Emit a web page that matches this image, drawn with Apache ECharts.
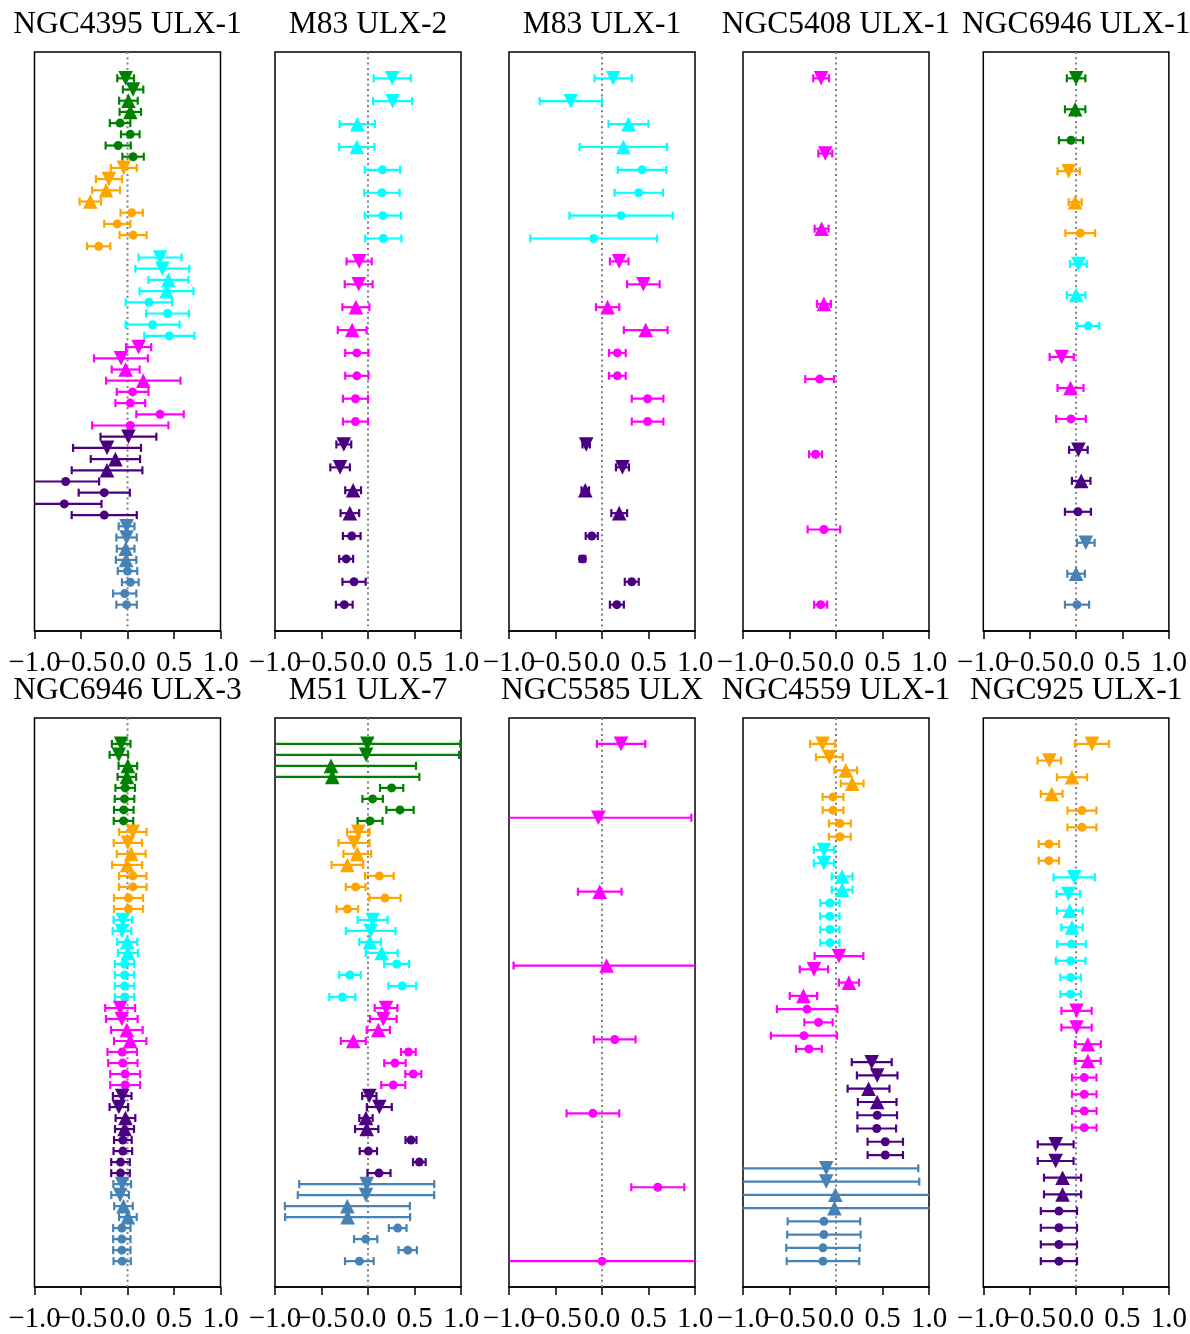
<!DOCTYPE html>
<html>
<head>
<meta charset="utf-8">
<script src="https://cdn.jsdelivr.net/npm/echarts@6/dist/echarts.min.js"></script>
<style>
html,body{margin:0;padding:0;background:#fff;}
#chart{width:1190px;height:1334px;}
</style>
</head>
<body>
<div id="chart"></div>
<script>
// ---------------- DATA ----------------
const panelTitles = ['NGC4395 ULX-1','M83 ULX-2','M83 ULX-1','NGC5408 ULX-1','NGC6946 ULX-1',
                     'NGC6946 ULX-3','M51 ULX-7','NGC5585 ULX','NGC4559 ULX-1','NGC925 ULX-1'];
const xTicks = [-1.0, -0.5, 0.0, 0.5, 1.0];
// marker sequence inside each colour group: v = triangle down, ^ = triangle up, o = circle
const pattern8 = ['v','v','^','^','o','o','o','o'];
const pattern3 = ['v','^','o'];
const p1Groups = ['green','orange','cyan','magenta','indigo','steelblue'];
const p2Groups = ['cyan','magenta','indigo'];
const p3Groups = ['cyan','magenta','indigo'];
const p4Groups = ['magenta'];
const p5Groups = ['green','orange','cyan','magenta','indigo','steelblue'];
const p6Groups = ['green','orange','cyan','magenta','indigo','steelblue'];
const p7Groups = ['green','orange','cyan','magenta','indigo','steelblue'];
const p8Groups = ['magenta'];
const p9Groups = ['orange','cyan','magenta','indigo','steelblue'];
const p10Groups = ['orange','cyan','magenta','indigo'];

const p1X = [-0.02,0.06,0.01,0.03,-0.08,0.03,-0.10,0.06,
             -0.04,-0.20,-0.23,-0.40,0.045,-0.11,0.06,-0.31,
             0.35,0.375,0.44,0.42,0.23,0.43,0.27,0.45,
             0.12,-0.07,-0.02,0.17,0.055,0.03,0.35,0.03,
             0.01,-0.22,-0.13,-0.22,-0.665,-0.25,-0.68,-0.25,
             -0.01,-0.01,-0.02,-0.015,0.0,0.03,-0.03,-0.01];
const p1Err = [0.09,0.11,0.10,0.115,0.11,0.10,0.135,0.115,
               0.14,0.14,0.15,0.115,0.12,0.14,0.145,0.125,
               0.23,0.29,0.215,0.29,0.25,0.23,0.29,0.27,
               0.135,0.29,0.15,0.40,0.17,0.16,0.255,0.41,
               0.30,0.365,0.265,0.38,0.36,0.275,0.40,0.35,
               0.085,0.11,0.095,0.11,0.105,0.09,0.125,0.11];

const p2X = [0.26,0.265,-0.115,-0.12,0.155,0.15,0.16,0.165,
             -0.095,-0.10,-0.13,-0.17,-0.12,-0.12,-0.135,-0.135,
             -0.26,-0.30,-0.16,-0.195,-0.175,-0.235,-0.15,-0.255];
const p2Err = [0.20,0.21,0.19,0.19,0.19,0.19,0.195,0.195,
               0.135,0.15,0.145,0.155,0.125,0.125,0.135,0.135,
               0.08,0.105,0.085,0.10,0.095,0.075,0.125,0.09];

const p3X = [0.12,-0.335,0.285,0.23,0.43,0.395,0.205,-0.09,
             0.185,0.445,0.06,0.47,0.165,0.165,0.49,0.49,
             -0.17,0.22,-0.18,0.185,-0.11,-0.21,0.32,0.16];
const p3Err = [0.20,0.335,0.215,0.47,0.26,0.26,0.555,0.68,
               0.10,0.175,0.125,0.235,0.09,0.09,0.17,0.17,
               0.04,0.07,0.04,0.085,0.065,0.03,0.075,0.075];

const p4X = [-0.16,-0.115,-0.155,-0.13,-0.175,-0.22,-0.13,-0.165];
const p4Err = [0.085,0.075,0.075,0.075,0.155,0.07,0.175,0.07];

const p5X = [0.0,-0.01,-0.055, -0.08,-0.01,0.045, 0.025,0.0,0.13,
             -0.155,-0.06,-0.055, 0.025,0.055,0.02, 0.105,0.0,0.01];
const p5Err = [0.10,0.11,0.13, 0.12,0.07,0.16, 0.09,0.10,0.12,
               0.13,0.14,0.16, 0.10,0.10,0.14, 0.095,0.095,0.13];

const p6X = [-0.068,-0.093,0.004,-0.007,-0.025,-0.032,-0.04,-0.043,
             0.057,0.004,0.04,-0.004,0.057,0.057,0.011,0.011,
             -0.05,-0.06,-0.004,0.004,-0.032,-0.032,-0.032,-0.032,
             -0.079,-0.061,-0.007,0.029,-0.057,-0.05,-0.025,-0.025,
             -0.057,-0.093,-0.022,-0.032,-0.05,-0.05,-0.075,-0.075,
             -0.057,-0.079,-0.043,0.004,-0.061,-0.061,-0.061,-0.057];
const p6Err = [0.10,0.10,0.10,0.10,0.105,0.105,0.105,0.105,
               0.147,0.152,0.155,0.161,0.147,0.148,0.156,0.156,
               0.10,0.10,0.108,0.108,0.104,0.104,0.104,0.104,
               0.161,0.17,0.17,0.174,0.158,0.158,0.161,0.161,
               0.10,0.10,0.106,0.102,0.095,0.10,0.10,0.10,
               0.095,0.095,0.10,0.095,0.093,0.093,0.093,0.093];

const p7X = [-0.007,-0.02,-0.398,-0.384,0.254,0.05,0.344,0.022,
             -0.104,-0.15,-0.115,-0.222,0.122,-0.133,0.183,-0.222,
             0.05,0.029,0.022,0.147,0.308,-0.194,0.369,-0.276,
             0.194,0.165,0.111,-0.158,0.434,0.29,0.487,0.272,
             0.014,0.122,-0.022,-0.014,0.462,0.004,0.552,0.118,
             -0.014,-0.022,-0.222,-0.219,0.319,-0.025,0.427,-0.093];
const p7Err = [1.0,1.0,0.914,0.936,0.125,0.11,0.147,0.134,
               0.122,0.167,0.149,0.17,0.154,0.106,0.168,0.116,
               0.161,0.267,0.116,0.172,0.134,0.116,0.149,0.14,
               0.122,0.143,0.125,0.134,0.079,0.115,0.086,0.129,
               0.077,0.134,0.072,0.125,0.059,0.093,0.068,0.124,
               0.726,0.733,0.672,0.672,0.095,0.125,0.099,0.154];

const p8X = [0.205,-0.039,-0.024,0.049,0.137,-0.098,0.60,0.0];
const p8Err = [0.26,1.0,0.234,1.0,0.224,0.283,0.285,1.1];

const p9X = [-0.144,-0.071,0.105,0.174,-0.032,-0.032,0.042,0.042,
             -0.13,-0.13,0.066,0.066,-0.066,-0.066,-0.066,-0.066,
             0.032,-0.237,0.139,-0.35,-0.311,-0.188,-0.345,-0.291,
             0.384,0.443,0.35,0.443,0.443,0.438,0.53,0.53,
             -0.105,-0.105,-0.007,-0.017,-0.13,-0.13,-0.14,-0.14];
const p9Err = [0.134,0.144,0.122,0.122,0.112,0.112,0.117,0.117,
               0.108,0.108,0.112,0.112,0.103,0.103,0.103,0.103,
               0.262,0.152,0.108,0.147,0.325,0.152,0.355,0.139,
               0.215,0.218,0.225,0.208,0.213,0.208,0.19,0.19,
               0.99,1.0,1.05,1.05,0.39,0.395,0.395,0.39];

const p10X = [0.171,-0.288,-0.044,-0.263,0.063,0.063,-0.293,-0.293,
              -0.02,-0.083,-0.068,-0.044,-0.049,-0.059,-0.059,-0.059,
              0.005,0.005,0.127,0.127,0.088,0.088,0.088,0.088,
              -0.22,-0.22,-0.146,-0.146,-0.185,-0.185,-0.185,-0.185];
const p10Err = [0.183,0.127,0.163,0.117,0.156,0.156,0.11,0.11,
                0.222,0.127,0.139,0.115,0.154,0.159,0.11,0.11,
                0.163,0.163,0.139,0.139,0.132,0.132,0.132,0.132,
                0.193,0.193,0.2,0.2,0.195,0.195,0.195,0.195];

// ---------------- LAYOUT / STYLE ----------------
const panels = [
  {groups:p1Groups, pattern:pattern8, x:p1X, err:p1Err},
  {groups:p2Groups, pattern:pattern8, x:p2X, err:p2Err},
  {groups:p3Groups, pattern:pattern8, x:p3X, err:p3Err},
  {groups:p4Groups, pattern:pattern8, x:p4X, err:p4Err},
  {groups:p5Groups, pattern:pattern3, x:p5X, err:p5Err},
  {groups:p6Groups, pattern:pattern8, x:p6X, err:p6Err},
  {groups:p7Groups, pattern:pattern8, x:p7X, err:p7Err},
  {groups:p8Groups, pattern:pattern8, x:p8X, err:p8Err},
  {groups:p9Groups, pattern:pattern8, x:p9X, err:p9Err},
  {groups:p10Groups, pattern:pattern8, x:p10X, err:p10Err}
];
const gridLeft = [34.5, 275, 509, 743, 983.3];
const gridTop = [52, 718];
const titleTop = [9, 675];
const GW = 186, GH = 579;
const FONT = 'Liberation Serif';
const TRI = 7.3, CIRC = 4.5, CAP = 4;

const chart = echarts.init(document.getElementById('chart'), null, {renderer:'canvas'});
const option = {animation:false, backgroundColor:'#fff', title:[], grid:[], xAxis:[], yAxis:[], series:[]};
const extraAxes = [];

function fmt(v){ return (v < 0 ? '\u2212' : '') + Math.abs(v).toFixed(1); }
const SECOND = -0.5; // label drawn by a second, line-less axis so that overlapping labels are all kept
const labelStyle = {color: '#000', fontFamily: FONT, fontSize: 29, margin: 18, hideOverlap: false};

panels.forEach(function(p, i){
  const col = i % 5, row = Math.floor(i / 5);
  const n = p.x.length;
  const ymin = -0.05 * (n - 1), ymax = 1.05 * (n - 1);
  const per = p.pattern.length;
  const colors = [], marks = [], data = [];
  for (let k = 0; k < n; k++) {
    colors.push(p.groups[Math.floor(k / per)]);
    marks.push(p.pattern[k % per]);
    data.push([p.x[k], k, p.err[k]]);
  }
  option.title.push({
    text: panelTitles[i], left: gridLeft[col] + GW / 2, top: titleTop[row], textAlign: 'center', padding: 0,
    textStyle: {fontFamily: FONT, fontSize: 31.5, fontWeight: 'normal', color: '#000'}
  });
  option.grid.push({left: gridLeft[col], top: gridTop[row], width: GW, height: GH,
    show: true, borderColor: '#000', borderWidth: 1.5, backgroundColor: 'transparent'});
  option.xAxis.push({
    gridIndex: i, type: 'value', position: 'bottom', min: xTicks[0], max: xTicks[xTicks.length - 1], interval: 0.5,
    axisLine: {show: true, onZero: false, lineStyle: {color: '#000', width: 1.5}},
    axisTick: {show: true, inside: false, length: 8, lineStyle: {color: '#000', width: 1.5}},
    axisLabel: Object.assign({}, labelStyle, {showMinLabel: true, showMaxLabel: true,
      formatter: function(v){ return Math.abs(v - SECOND) < 1e-9 ? '' : fmt(v); }}),
    splitLine: {show: false}
  });
  extraAxes.push({
    gridIndex: i, type: 'value', position: 'bottom', offset: 0, min: xTicks[0], max: xTicks[xTicks.length - 1], interval: 0.5,
    axisLine: {show: false, onZero: false}, axisTick: {show: false}, splitLine: {show: false},
    axisLabel: Object.assign({}, labelStyle, {showMinLabel: true, showMaxLabel: true,
      formatter: function(v){ return Math.abs(v - SECOND) < 1e-9 ? fmt(v) : ''; }})
  });
  option.yAxis.push({gridIndex: i, type: 'value', inverse: true, min: ymin, max: ymax, show: false});
  // dotted zero line
  option.series.push({
    type: 'line', xAxisIndex: i, yAxisIndex: i, data: [[0, ymin], [0, ymax]],
    symbol: 'none', silent: true, z: 1,
    lineStyle: {color: '#808080', width: 2, type: [2, 3.3]}
  });
  // error bars + markers
  option.series.push({
    type: 'custom', xAxisIndex: i, yAxisIndex: i, data: data, z: 3, silent: true,
    renderItem: function(params, api){
      const k = params.dataIndex;
      const xv = api.value(0), yv = api.value(1), e = api.value(2);
      const c = api.coord([xv, yv]);
      const L = api.coord([xv - e, yv])[0], R = api.coord([xv + e, yv])[0];
      const cs = params.coordSys;
      const x0 = cs.x, x1 = cs.x + cs.width;
      const color = colors[k];
      const children = [];
      children.push({type: 'line', shape: {x1: Math.max(L, x0), y1: c[1], x2: Math.min(R, x1), y2: c[1]},
        style: {stroke: color, lineWidth: 2.2}});
      [L, R].forEach(function(cx){
        if (cx >= x0 - 0.5 && cx <= x1 + 0.5) {
          children.push({type: 'line', shape: {x1: cx, y1: c[1] - CAP, x2: cx, y2: c[1] + CAP},
            style: {stroke: color, lineWidth: 2.2}});
        }
      });
      const m = marks[k];
      if (m === 'o') {
        children.push({type: 'circle', shape: {cx: c[0], cy: c[1], r: CIRC}, style: {fill: color}});
      } else if (m === 'v') {
        children.push({type: 'polygon', shape: {points: [[c[0] - TRI, c[1] - TRI], [c[0] + TRI, c[1] - TRI], [c[0], c[1] + TRI]]},
          style: {fill: color}});
      } else {
        children.push({type: 'polygon', shape: {points: [[c[0], c[1] - TRI], [c[0] - TRI, c[1] + TRI], [c[0] + TRI, c[1] + TRI]]},
          style: {fill: color}});
      }
      return {type: 'group', children: children};
    }
  });
});
option.xAxis = option.xAxis.concat(extraAxes);

chart.setOption(option);
</script>
</body>
</html>
